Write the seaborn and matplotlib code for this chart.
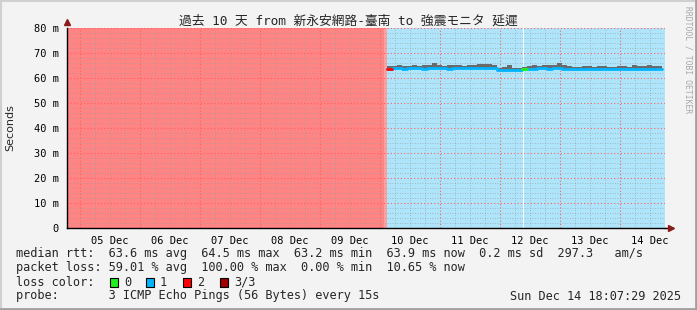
import numpy as np
import pandas as pd
import matplotlib
matplotlib.use("Agg")
import matplotlib.pyplot as plt
import matplotlib.dates as mdates
from matplotlib.ticker import FixedLocator, FuncFormatter, MultipleLocator
from matplotlib.lines import Line2D
from matplotlib.patches import Rectangle
import seaborn as sns

# ---------------- data ----------------
title = "過去 10 天 from 新永安網路-臺南 to 強震モニタ 延遲"
window_start = "2025-12-04 18:48"
window_hours = 239.2

# background loss periods (hours from window start)
bg_start_h = [0.0, 126.8, 128.0, 182.2, 182.6]
bg_end_h = [126.8, 128.0, 182.2, 182.6, 239.2]
bg_colors = ["#ff8484", "#ffa0a0", "#aee5fb", "#ffffff", "#aee5fb"]

# median rtt samples every 2 h starting at hour 128 (ms)
data_first_h = 128.0
data_step_h = 2.0
median_ms = [63.8, 63.9, 63.9, 63.8, 63.9, 63.9, 63.9, 63.8, 63.9, 64.0,
             63.9, 63.9, 63.8, 63.9, 63.9, 63.9, 63.9, 64.0, 64.0, 64.0,
             64.1, 64.0, 63.4, 63.4, 63.4, 63.4, 63.4, 63.6, 63.8, 63.8,
             63.9, 63.9, 63.8, 63.9, 63.9, 63.8, 63.8, 63.5, 63.5, 63.5,
             63.5, 63.5, 63.5, 63.5, 63.5, 63.5, 63.5, 63.5, 63.5, 63.5,
             63.5, 63.5, 63.5, 63.5, 63.5, 63.5]
smoke_top_ms = [64.9, 65.0, 65.1, 64.9, 65.0, 65.1, 65.0, 65.1, 65.2, 66.0,
                65.1, 65.0, 65.1, 65.1, 65.2, 65.0, 65.2, 65.4, 65.5, 65.6,
                65.7, 65.2, 64.2, 64.3, 65.4, 64.2, 64.2, 64.6, 65.0, 65.1,
                65.0, 65.4, 65.1, 65.1, 66.2, 65.2, 64.9, 64.5, 64.5, 64.7,
                64.7, 64.5, 64.8, 64.7, 64.5, 64.5, 64.7, 64.7, 64.5, 65.1,
                64.7, 64.8, 65.4, 64.9, 64.7, 64.8]
loss_count = [2] + [1] * 26 + [0] + [1] * 28

y_ticks = [0, 10, 20, 30, 40, 50, 60, 70, 80]
day_labels = ["05 Dec", "06 Dec", "07 Dec", "08 Dec", "09 Dec",
              "10 Dec", "11 Dec", "12 Dec", "13 Dec", "14 Dec"]

legend_lines = [
    "median rtt:  63.6 ms avg  64.5 ms max  63.2 ms min  63.9 ms now  0.2 ms sd  297.3   am/s",
    "packet loss: 59.01 % avg  100.00 % max  0.00 % min  10.65 % now",
]
loss_labels = ["0", "1", "2", "3/3"]
loss_colors = ["#20f020", "#00b4ff", "#ff0000", "#a00000"]
probe_text = "probe:       3 ICMP Echo Pings (56 Bytes) every 15s"
date_text = "Sun Dec 14 18:07:29 2025"

# ---------------- figure ----------------
sns.set_style("white")
plt.rcParams["font.family"] = ["DejaVu Sans Mono", "Noto Sans CJK JP"]

W, H = 697, 310
fig = plt.figure(figsize=(W / 100, H / 100), dpi=100, facecolor="#f3f3f3")
ax = fig.add_axes([67 / W, (H - 228) / H, 598 / W, 200 / H])

t0 = pd.Timestamp(window_start)
t_end = t0 + pd.Timedelta(hours=window_hours)

for s, e, c in zip(bg_start_h, bg_end_h, bg_colors):
    ax.axvspan(t0 + pd.Timedelta(hours=s), t0 + pd.Timedelta(hours=e),
               color=c, lw=0, zorder=1)

times = [t0 + pd.Timedelta(hours=data_first_h + i * data_step_h) for i in range(len(median_ms))]
df = pd.DataFrame({"time": times, "median": median_ms, "top": smoke_top_ms,
                   "loss": loss_count})

# smoke
ax.fill_between(df["time"], df["median"], df["top"], step="post",
                color="#6a6a6a", lw=0, zorder=3)
# median line in loss colours
sns.lineplot(data=df, x="time", y="median", drawstyle="steps-post",
             color=loss_colors[1], lw=2.0, ax=ax, zorder=4)
for i, lc in enumerate(df["loss"]):
    if lc != 1 and i + 1 < len(df):
        ax.plot([df["time"][i], df["time"][i + 1]], [df["median"][i]] * 2,
                color=loss_colors[lc], lw=2.0, zorder=5)

ax.set_xlim(t0, t_end)
ax.set_ylim(0, 80)
ax.set_xlabel("")
ax.set_ylabel("Seconds", family="DejaVu Sans", fontsize=8, labelpad=13)

# x axis: midnight major (red grid), 6h minor (grey grid), labels at noon
days = pd.date_range("2025-12-05", "2025-12-14", freq="D")
ax.xaxis.set_major_locator(FixedLocator(mdates.date2num(days)))
ax.xaxis.set_major_formatter(FuncFormatter(lambda v, p: ""))
six = pd.date_range("2025-12-04 18:00", "2025-12-14 18:00", freq="6h")
ax.xaxis.set_minor_locator(FixedLocator(mdates.date2num(six)))
noon_nums = mdates.date2num(days + pd.Timedelta(hours=12))
noon_map = {round(n, 4): l for n, l in zip(noon_nums, day_labels)}
ax.xaxis.set_minor_formatter(FuncFormatter(lambda v, p: noon_map.get(round(v, 4), "")))

ax.yaxis.set_major_locator(FixedLocator(y_ticks))
ax.yaxis.set_major_formatter(FuncFormatter(lambda v, p: "0" if v == 0 else f"{int(v)} m"))
ax.yaxis.set_minor_locator(MultipleLocator(2))

ax.tick_params(axis="both", which="both", labelsize=7.5, colors="#000000")
ax.tick_params(axis="x", which="major", length=3, color="#ff5050", direction="out")
ax.tick_params(axis="x", which="minor", length=2, color="#999999", pad=4)
ax.tick_params(axis="y", which="major", length=3, color="#ff5050", pad=3)
ax.tick_params(axis="y", which="minor", length=2, color="#999999")
for lab in ax.get_xticklabels(which="both") + ax.get_yticklabels():
    lab.set_family("DejaVu Sans Mono")

ax.set_axisbelow(False)
ax.grid(True, which="major", color="#ff6060", lw=0.8, ls=(0, (1, 2)), zorder=2.5)
ax.grid(True, which="minor", color="#9a9a9a", lw=0.6, ls=(0, (1, 2)), alpha=0.8, zorder=2.5)

for sp in ["top", "right"]:
    ax.spines[sp].set_visible(False)
for sp in ["left", "bottom"]:
    ax.spines[sp].set_color("#000000")
    ax.spines[sp].set_linewidth(1.0)
    ax.spines[sp].set_zorder(6)

# arrows
ax.plot([0], [1.0 + 6 / 200], marker="^", color="#8b1a1a", ms=4.5,
        transform=ax.transAxes, clip_on=False, zorder=7)
ax.plot([1.0 + 6 / 598], [0], marker=">", color="#8b1a1a", ms=4.5,
        transform=ax.transAxes, clip_on=False, zorder=7)
ax.plot([1.0, 1.0 + 5 / 598], [0, 0], color="#000000", lw=1.0,
        transform=ax.transAxes, clip_on=False, zorder=6)

# title
fig.text(348 / W, 1 - 21 / H, title, ha="center", va="center", fontsize=9.2,
         family=["DejaVu Sans Mono", "Noto Sans CJK JP"])

# watermark
fig.text(688 / W, 1 - 6 / H, "RRDTOOL / TOBI OETIKER", rotation=-90,
         ha="center", va="top", fontsize=5.8, color="#a8a8a8",
         family="DejaVu Sans Mono")

# legend text
fs = 8.55
fig.text(16 / W, 1 - 254 / H, legend_lines[0], fontsize=fs, va="center",
         family="DejaVu Sans Mono")
fig.text(16 / W, 1 - 268 / H, legend_lines[1], fontsize=fs, va="center",
         family="DejaVu Sans Mono")
fig.text(16 / W, 1 - 282 / H, "loss color:", fontsize=fs, va="center",
         family="DejaVu Sans Mono")
box_x = [110, 146, 183, 220]
for bx, lab, c in zip(box_x, loss_labels, loss_colors):
    fig.patches.append(Rectangle((bx / W, 1 - 286.5 / H), 8 / W, 9 / H,
                                 transform=fig.transFigure, facecolor=c,
                                 edgecolor="#000000", lw=0.8))
    fig.text((bx + 14) / W, 1 - 282 / H, lab, fontsize=fs, va="center",
             family="DejaVu Sans Mono")
fig.text(16 / W, 1 - 296 / H, probe_text, fontsize=fs, va="center",
         family="DejaVu Sans Mono")
fig.text(681 / W, 1 - 296 / H, date_text, fontsize=fs, va="center", ha="right",
         family="DejaVu Sans Mono")

# frame border
fig.add_artist(Line2D([0, 1], [1 - 0.5 / H, 1 - 0.5 / H], color="#d0d0d0", lw=1.5,
                      transform=fig.transFigure))
fig.add_artist(Line2D([0.5 / W, 0.5 / W], [0, 1], color="#d0d0d0", lw=1.5,
                      transform=fig.transFigure))
fig.add_artist(Line2D([0, 1], [1 / H, 1 / H], color="#a0a0a0", lw=2,
                      transform=fig.transFigure))
fig.add_artist(Line2D([1 - 1 / W, 1 - 1 / W], [0, 1], color="#a0a0a0", lw=2,
                      transform=fig.transFigure))

fig.savefig("out.png", dpi=100, facecolor=fig.get_facecolor())
